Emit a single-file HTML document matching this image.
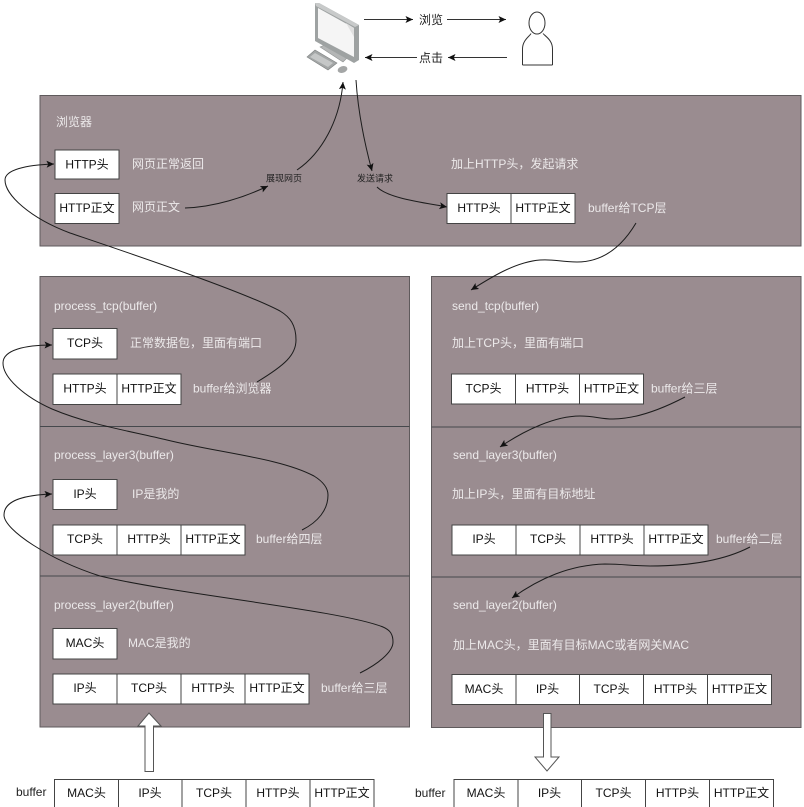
<!DOCTYPE html>
<html lang="zh-CN">
<head>
<meta charset="utf-8">
<title>Network diagram</title>
<style>
html,body{margin:0;padding:0;background:#fff;}
body{width:804px;height:807px;overflow:hidden;}
svg{display:block;font-family:"Liberation Sans","Noto Sans CJK SC",sans-serif;font-size:12px;filter:blur(0.35px);}
.p{fill:#9a8c90;stroke:#5f5a5c;stroke-width:1;}
.d{stroke:#45484c;stroke-width:1;fill:none;}
.b{fill:#fff;stroke:#444;stroke-width:1;}
.t{fill:#111;text-anchor:middle;}
.w{fill:#ece9ea;}
.k{fill:#222;}
.c{fill:none;stroke:#1c1c1c;stroke-width:1;}
.l{fill:none;stroke:#333;stroke-width:1;}
</style>
</head>
<body>
<svg width="804" height="807" viewBox="0 0 804 807" xmlns="http://www.w3.org/2000/svg">
<defs>
<marker id="m" markerWidth="9" markerHeight="8" refX="7.5" refY="3.5" orient="auto" markerUnits="userSpaceOnUse">
<path d="M0 0L7.5 3.5L0 7L1.7 3.5Z" fill="#111"/>
</marker>
</defs>

<!-- panels -->
<rect class="p" x="40" y="95.500" width="761" height="150.500"/>
<rect class="p" x="40" y="276.500" width="369.500" height="450.500"/>
<rect class="p" x="431.500" y="276.500" width="369.500" height="451"/>
<path class="d" d="M40 426.500H409.500M40 576H409.500M431.500 427H801M431.500 577H801"/>

<!-- computer -->
<g>
<polygon points="320,47 325,45 347,58 343,62" fill="#b4b6b6" stroke="#8f9292" stroke-width=".6"/>
<polygon points="307,57 315,50 337,63 328,70" fill="#a3a6a6" stroke="#7f8282" stroke-width=".6"/>
<polygon points="310,57 315,53 333,63 328,67" fill="#c5c7c7"/>
<polygon points="315,3 319,3 359,25 359,60 354,63 315,41" fill="#9ea2a2"/>
<polygon points="315,3 319,3 359,25 355,27 316,6" fill="#c8caca"/>
<polygon points="318,8 354,28 354,57 318,38" fill="#f5f5f5"/>
<polygon points="346,23 354,28 354,37" fill="#e0e0e0"/>
<ellipse cx="342.500" cy="69.500" rx="5" ry="3.300" fill="#a4a6a6" transform="rotate(-18 342.500 69.500)"/>
</g>

<!-- person -->
<ellipse cx="537" cy="23" rx="8" ry="11" fill="#fff" stroke="#333" stroke-width="1"/>
<path d="M522.500 65V49C522.500 40 530 36 531 33.500M552.500 65V49C552.500 40 545 36 543 33.500M522.500 65H552.500" fill="none" stroke="#333" stroke-width="1"/>

<!-- top arrows -->
<path class="l" d="M364 19.500H413" marker-end="url(#m)"/>
<path class="l" d="M447 19.500H506" marker-end="url(#m)"/>
<path class="l" d="M507 57.500H448" marker-end="url(#m)"/>
<path class="l" d="M417 57.500H365" marker-end="url(#m)"/>
<text class="k" x="419" y="24">浏览</text>
<text class="k" x="419" y="62">点击</text>

<!-- connectors -->
<path class="c" d="M185 208C215 207 245 197 268 186" marker-end="url(#m)"/>
<path class="c" d="M297 170C322 153 340 120 343 82" marker-end="url(#m)"/>
<path class="c" d="M356 80C358 112 365 145 372 171" marker-end="url(#m)"/>
<path class="c" d="M377 187C388 198 420 202 447 207" marker-end="url(#m)"/>
<path class="c" d="M257 382C285 365 296 355 296 340C296 325 290 317 280 311C240 290 120 250 70 233C30 218 5 195 5 180C5 170 25 165 54 164" marker-end="url(#m)"/>
<path class="c" d="M302 530C318 522 328 510 328 495C328 487 322 481 314 476C280 458 220 453 167 440C130 431 90 425 52 409C25 397 3 378 3 363C3 350 25 345 52 345" marker-end="url(#m)"/>
<path class="c" d="M360 673C378 664 393 652 393 642C393 634 390 630 383 627C340 610 180 595 100 576C50 560 4 530 4 515C4 500 25 495 52 494" marker-end="url(#m)"/>
<path class="c" d="M636 223C620 250 600 262 577 262C560 262 555 259 540 260C515 262 490 278 471 290" marker-end="url(#m)"/>
<path class="c" d="M685 397C660 410 635 419 613 419C600 419 595 416 580 416C555 416 525 430 500 447" marker-end="url(#m)"/>
<path class="c" d="M750 547C725 560 690 566 650 566C630 566 625 564 605 564C570 565 540 578 512 598" marker-end="url(#m)"/>

<text class="k" x="284" y="181.500" text-anchor="middle" style="font-size:9px">展现网页</text>
<text class="k" x="375" y="181.500" text-anchor="middle" style="font-size:9px">发送请求</text>

<!-- browser panel -->
<text class="w" x="56" y="126">浏览器</text>
<rect class="b" x="55" y="150" width="64" height="29"/><text class="t" x="87" y="168.500">HTTP头</text>
<rect class="b" x="55" y="193.500" width="64" height="30"/><text class="t" x="87" y="212">HTTP正文</text>
<text class="w" x="132" y="168">网页正常返回</text>
<text class="w" x="132" y="211">网页正文</text>
<text class="w" x="451" y="168">加上HTTP头，发起请求</text>
<rect class="b" x="447" y="193.500" width="64" height="30"/><text class="t" x="479" y="212">HTTP头</text>
<rect class="b" x="511" y="193.500" width="64" height="30"/><text class="t" x="543" y="212">HTTP正文</text>
<text class="w" x="588" y="212">buffer给TCP层</text>

<!-- left stack -->
<text class="w" x="54" y="310">process_tcp(buffer)</text>
<rect class="b" x="53" y="328.500" width="64" height="30.500"/><text class="t" x="85" y="347">TCP头</text>
<text class="w" x="130" y="347">正常数据包，里面有端口</text>
<rect class="b" x="53" y="374" width="64" height="30.500"/><text class="t" x="85" y="392.500">HTTP头</text>
<rect class="b" x="117" y="374" width="64" height="30.500"/><text class="t" x="149" y="392.500">HTTP正文</text>
<text class="w" x="193" y="392.500">buffer给浏览器</text>

<text class="w" x="54" y="459">process_layer3(buffer)</text>
<rect class="b" x="53" y="479.500" width="64" height="30"/><text class="t" x="85" y="498">IP头</text>
<text class="w" x="132" y="498">IP是我的</text>
<rect class="b" x="53" y="525" width="64" height="30"/><text class="t" x="85" y="543">TCP头</text>
<rect class="b" x="117" y="525" width="64" height="30"/><text class="t" x="149" y="543">HTTP头</text>
<rect class="b" x="181" y="525" width="64" height="30"/><text class="t" x="213" y="543">HTTP正文</text>
<text class="w" x="256" y="543">buffer给四层</text>

<text class="w" x="54" y="609">process_layer2(buffer)</text>
<rect class="b" x="53" y="628.500" width="64" height="30.500"/><text class="t" x="85" y="647">MAC头</text>
<text class="w" x="128" y="647">MAC是我的</text>
<rect class="b" x="53" y="674" width="64" height="30"/><text class="t" x="85" y="692">IP头</text>
<rect class="b" x="117" y="674" width="64" height="30"/><text class="t" x="149" y="692">TCP头</text>
<rect class="b" x="181" y="674" width="64" height="30"/><text class="t" x="213" y="692">HTTP头</text>
<rect class="b" x="245" y="674" width="64" height="30"/><text class="t" x="277" y="692">HTTP正文</text>
<text class="w" x="321" y="692">buffer给三层</text>

<!-- right stack -->
<text class="w" x="452" y="310">send_tcp(buffer)</text>
<text class="w" x="452" y="347">加上TCP头，里面有端口</text>
<rect class="b" x="451.500" y="374" width="64" height="30"/><text class="t" x="483.500" y="392.500">TCP头</text>
<rect class="b" x="515.500" y="374" width="64" height="30"/><text class="t" x="547.500" y="392.500">HTTP头</text>
<rect class="b" x="579.500" y="374" width="64" height="30"/><text class="t" x="611.500" y="392.500">HTTP正文</text>
<text class="w" x="651" y="392.500">buffer给三层</text>

<text class="w" x="453" y="459">send_layer3(buffer)</text>
<text class="w" x="452" y="498">加上IP头，里面有目标地址</text>
<rect class="b" x="452" y="525" width="64" height="30"/><text class="t" x="484" y="543">IP头</text>
<rect class="b" x="516" y="525" width="64" height="30"/><text class="t" x="548" y="543">TCP头</text>
<rect class="b" x="580" y="525" width="64" height="30"/><text class="t" x="612" y="543">HTTP头</text>
<rect class="b" x="644" y="525" width="64" height="30"/><text class="t" x="676" y="543">HTTP正文</text>
<text class="w" x="716" y="543">buffer给二层</text>

<text class="w" x="453" y="609">send_layer2(buffer)</text>
<text class="w" x="453" y="649">加上MAC头，里面有目标MAC或者网关MAC</text>
<rect class="b" x="452" y="674.500" width="64" height="30"/><text class="t" x="484" y="693">MAC头</text>
<rect class="b" x="516" y="674.500" width="63.500" height="30"/><text class="t" x="547.500" y="693">IP头</text>
<rect class="b" x="579.500" y="674.500" width="64" height="30"/><text class="t" x="611.500" y="693">TCP头</text>
<rect class="b" x="643.500" y="674.500" width="64" height="30"/><text class="t" x="675.500" y="693">HTTP头</text>
<rect class="b" x="707.500" y="674.500" width="64" height="30"/><text class="t" x="739.500" y="693">HTTP正文</text>

<!-- block arrows -->
<polygon points="149,713 161,726 153.500,726 153.500,771.500 145,771.500 145,726 138,726" fill="#fff" stroke="#555" stroke-width="1"/>
<polygon points="543.500,713.500 551,713.500 551,757 559,757 547,771 535,757 543.500,757" fill="#fff" stroke="#555" stroke-width="1"/>

<!-- buffers -->
<text class="k" x="16" y="796">buffer</text>
<rect class="b" x="54.500" y="779.500" width="64" height="30"/><text class="t" x="86.500" y="797">MAC头</text>
<rect class="b" x="118.500" y="779.500" width="63.500" height="30"/><text class="t" x="150" y="797">IP头</text>
<rect class="b" x="182" y="779.500" width="64" height="30"/><text class="t" x="214" y="797">TCP头</text>
<rect class="b" x="246" y="779.500" width="64" height="30"/><text class="t" x="278" y="797">HTTP头</text>
<rect class="b" x="310" y="779.500" width="64" height="30"/><text class="t" x="342" y="797">HTTP正文</text>

<text class="k" x="415" y="797">buffer</text>
<rect class="b" x="454" y="779.500" width="64" height="30"/><text class="t" x="486" y="797">MAC头</text>
<rect class="b" x="518" y="779.500" width="63.500" height="30"/><text class="t" x="549.500" y="797">IP头</text>
<rect class="b" x="581.500" y="779.500" width="64" height="30"/><text class="t" x="613.500" y="797">TCP头</text>
<rect class="b" x="645.500" y="779.500" width="64" height="30"/><text class="t" x="677.500" y="797">HTTP头</text>
<rect class="b" x="709.500" y="779.500" width="64" height="30"/><text class="t" x="741.500" y="797">HTTP正文</text>
</svg>
</body>
</html>
